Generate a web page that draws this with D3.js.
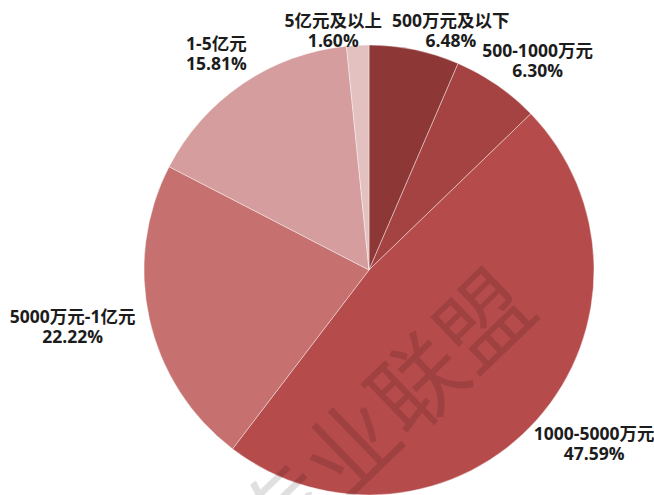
<!DOCTYPE html>
<html>
<head>
<meta charset="utf-8">
<script src="https://cdn.jsdelivr.net/npm/d3@7"></script>
<style>
  html, body { margin: 0; padding: 0; background: #fff; }
  svg { display: block; }
  .slice-label { font-family: "Open Sans", "Noto Sans CJK SC", sans-serif; font-weight: 700; font-size: 17.5px; fill: #1c1c1c; }
  .watermark { font-family: "Noto Sans CJK SC", sans-serif; font-size: 92px; fill: #000; fill-opacity: 0.12; }
</style>
</head>
<body>
<div id="chart"></div>
<script>
// registered capital bands, clockwise from 12 o'clock
const categories = ["500万元及以下", "500-1000万元", "1000-5000万元", "5000万元-1亿元", "1-5亿元", "5亿元及以上"];
const shares = [6.48, 6.30, 47.59, 22.22, 15.81, 1.60];
const sliceColors = ["#8e3737", "#a54242", "#b54b4a", "#c67070", "#d59d9d", "#e4c1c1"];

const width = 654, height = 495;
const cx = 369, cy = 270, radius = 225;

const svg = d3.select("#chart").append("svg")
  .attr("width", width).attr("height", height);

const rows = categories.map((c, i) => ({ name: c, value: shares[i], color: sliceColors[i] }));

const pie = d3.pie().sort(null).value(d => d.value);
const arc = d3.arc().innerRadius(0).outerRadius(radius);
const arcs = pie(rows);

const g = svg.append("g").attr("transform", `translate(${cx},${cy})`);

g.selectAll("path").data(arcs).join("path")
  .attr("d", arc)
  .attr("fill", d => d.data.color)
  .attr("stroke", "#fff")
  .attr("stroke-opacity", 0.5)
  .attr("stroke-width", 0.8);

// labels: two lines (name, percent), set outside the rim at the slice's mid angle
const lineH = 20;
const labels = g.selectAll("g.lbl").data(arcs).join("g").attr("class", "lbl");
labels.each(function (d) {
  const t = d3.select(this).append("text").attr("class", "slice-label").attr("text-anchor", "middle");
  t.append("tspan").attr("x", 0).attr("y", -lineH / 2 + 6).text(d.data.name);
  t.append("tspan").attr("x", 0).attr("y", lineH / 2 + 6).text(d.data.value.toFixed(2) + "%");
  const w = this.getBBox().width;
  const a = (d.startAngle + d.endAngle) / 2;
  const r = radius + 16;
  d.box = {
    x: (r + w / 2) * Math.sin(a),
    y: -(r + 20) * Math.cos(a),
    w, h: 30,
  };
  // keep the label inside the plot area (top edge)
  d.box.y = Math.max(d.box.y, 16 + d.box.h / 2 - cy);
});

// resolve collisions: push sideways, or down when the vertical overlap is small
for (let iter = 0; iter < 30; iter++) {
  for (let i = 0; i < arcs.length; i++) {
    for (let j = i + 1; j < arcs.length; j++) {
      const a = arcs[i].box, b = arcs[j].box;
      const ox = (a.w + b.w) / 2 + 10 - Math.abs(a.x - b.x);
      const oy = (a.h + b.h) / 2 - Math.abs(a.y - b.y);
      if (ox > 0 && oy > 0) {
        if (oy < ox && Math.abs(a.y - b.y) > 1) {
          const lower = a.y > b.y ? a : b;
          lower.y += oy;
        } else {
          const s = a.x < b.x ? -1 : 1;
          a.x += s * ox / 2;
          b.x -= s * ox / 2;
        }
      }
    }
  }
}
labels.attr("transform", d => `translate(${d.box.x},${d.box.y})`);

// faint diagonal watermark across the pie
svg.append("text").attr("class", "watermark")
  .attr("text-anchor", "middle")
  .attr("transform", "translate(408,440) rotate(-44)")
  .text("专业联盟");
</script>
</body>
</html>
